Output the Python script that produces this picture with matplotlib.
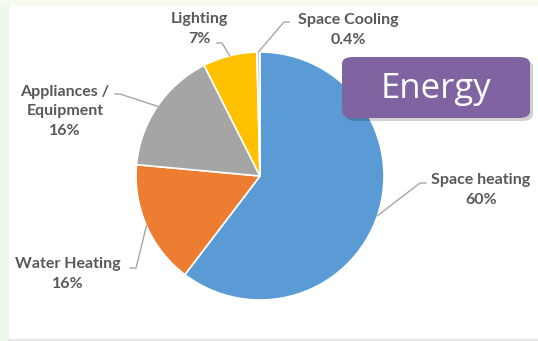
import numpy as np
import matplotlib.pyplot as plt
from matplotlib.patches import FancyBboxPatch, Rectangle

labels = ['Space heating', 'Water Heating', 'Appliances /\nEquipment', 'Lighting', 'Space Cooling']
pct_text = ['60%', '16%', '16%', '7%', '0.4%']
values = [60, 16, 16, 7, 0.4]
colors = ['#5B9BD5', '#ED7D31', '#A5A5A5', '#FFC000', '#BDD7EE']

W, H = 538, 341


def fy(y):
    # pixel y from top -> figure pixels from bottom
    return H - y


fig = plt.figure(figsize=(W / 100, H / 100), dpi=100)
fig.patch.set_facecolor('white')

# background strips of the slide
fig.add_artist(Rectangle((0, 0), 8 / W, 1, transform=fig.transFigure, color='#EEF7EC', zorder=0))
fig.add_artist(Rectangle((0, 1 - 4 / H), 1, 4 / H, transform=fig.transFigure, color='#F7FAEF', zorder=0))
fig.add_artist(Rectangle((8 / W, 0), 1, 2 / H, transform=fig.transFigure, color='#E6E6E6', zorder=0))

cx, cy, r = 260, 176, 124
ax = fig.add_axes([(cx - r) / W, (H - cy - r) / H, 2 * r / W, 2 * r / H])

wedges, _ = ax.pie(values, colors=colors, startangle=90, counterclock=False, radius=1,
                   wedgeprops=dict(edgecolor='white', linewidth=1.2))
ax.set_xlim(-1, 1)
ax.set_ylim(-1, 1)
ax.set_aspect('equal')
ax.axis('off')

# label text positions (pixel, from top) and leader elbow points
text_pos = [(481, 190), (68, 274), (65, 111), (199, 29), (348, 30)]
elbow = [(420, 183), (136, 268), (120, 94), (222, 43), (284, 22)]
hlen = [6, -6, -5, -5, 5]

for i, w in enumerate(wedges):
    ang = np.deg2rad((w.theta1 + w.theta2) / 2)
    px, py = ax.transData.transform((np.cos(ang), np.sin(ang)))
    ex, ey = elbow[i]
    line_x = [px, ex, ex + hlen[i]]
    line_y = [py, fy(ey), fy(ey)]
    fig.add_artist(plt.Line2D(np.array(line_x) / W, np.array(line_y) / H,
                              transform=fig.transFigure, color='#A6A6A6', lw=1, zorder=1))
    tx, ty = text_pos[i]
    fig.text(tx / W, fy(ty) / H, labels[i] + '\n' + pct_text[i], ha='center', va='center',
             fontsize=11.5, fontweight='bold', color='#595959', family='Lato',
             linespacing=1.5)

# "Energy" box with shadow
shadow = FancyBboxPatch((345 / W, fy(121) / H), 188 / W, 61 / H,
                        boxstyle='round,pad=0,rounding_size=0.02', transform=fig.transFigure,
                        facecolor='#000000', alpha=0.18, edgecolor='none', zorder=3)
fig.add_artist(shadow)
box = FancyBboxPatch((342 / W, fy(118) / H), 188 / W, 61 / H,
                     boxstyle='round,pad=0,rounding_size=0.02', transform=fig.transFigure,
                     facecolor='#8064A2', edgecolor='none', zorder=4)
fig.add_artist(box)
fig.text(436 / W, fy(89) / H, 'Energy', ha='center', va='center', fontsize=25,
         color='white', family='Open Sans', zorder=5)

plt.savefig('out.png', dpi=100)
